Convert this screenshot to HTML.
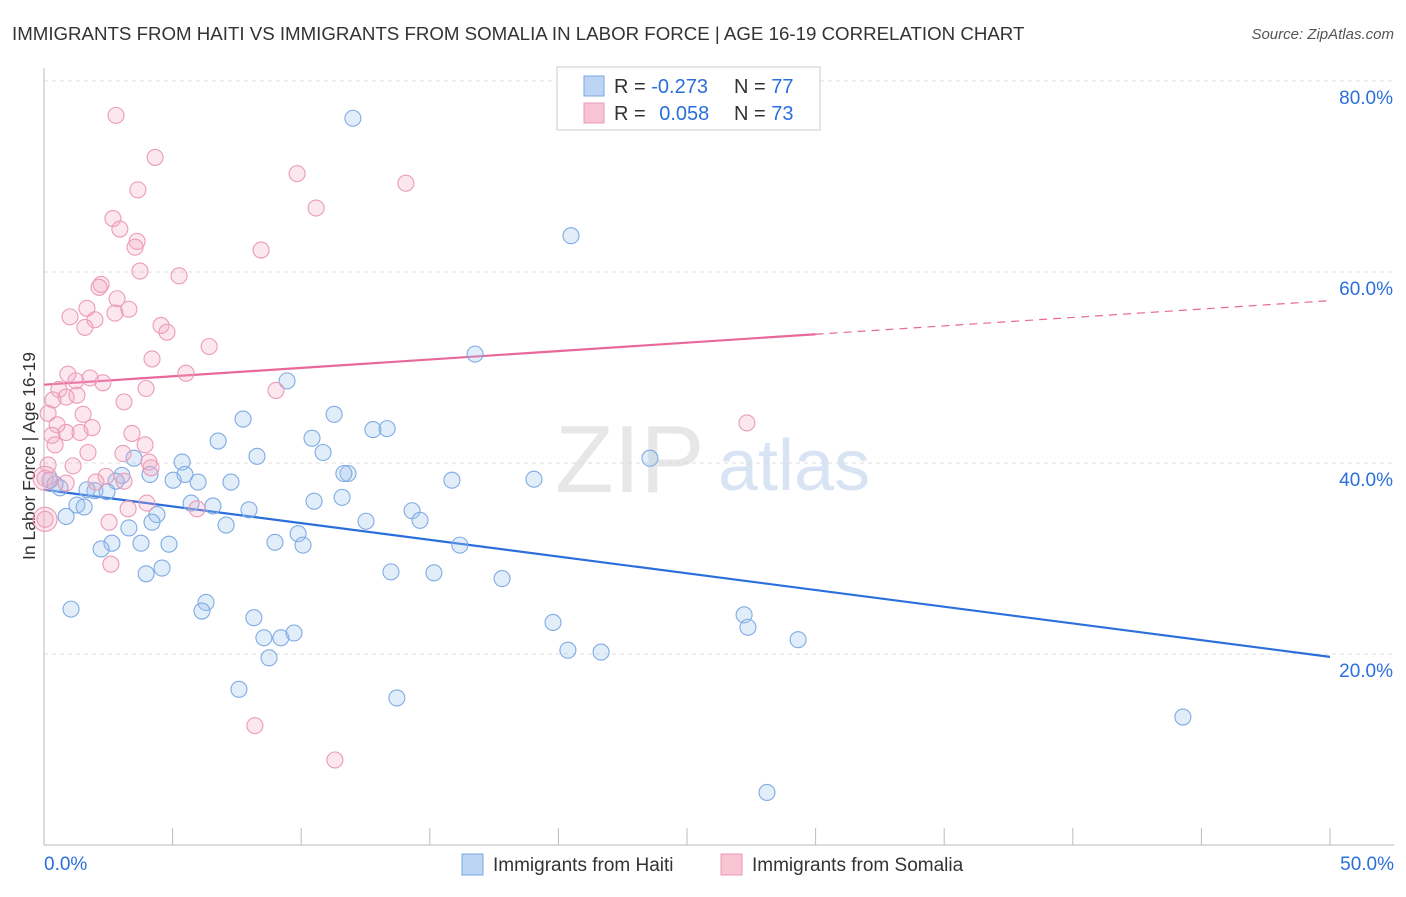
<!DOCTYPE html>
<html><head><meta charset="utf-8"><style>
body{margin:0;background:#fff;font-family:"Liberation Sans",sans-serif}
svg text{font-family:"Liberation Sans",sans-serif}
</style></head><body>
<svg id="c" width="1406" height="892">
<text x="12" y="40" font-size="18.7" fill="#333">IMMIGRANTS FROM HAITI VS IMMIGRANTS FROM SOMALIA IN LABOR FORCE | AGE 16-19 CORRELATION CHART</text>
<text x="1394" y="39" font-size="15" fill="#555" font-style="italic" text-anchor="end">Source: ZipAtlas.com</text>
<text x="35" y="456" font-size="17.5" fill="#333" text-anchor="middle" transform="rotate(-90 35 456)">In Labor Force | Age 16-19</text>
<g><text x="555" y="492" font-size="96" fill="#ddd" font-family="Liberation Serif" opacity="0.7">ZIP</text><text x="718" y="490" font-size="72" fill="#c8daf0" opacity="0.7">atlas</text></g>
<g id="grid"></g><g id="axes"></g><g id="lines"></g><g id="pts"></g>
<g>
<rect x="557" y="67" width="263" height="63" fill="#fff" stroke="#ccc"/>
<rect x="584" y="76" width="20" height="20" fill="#bcd5f5" stroke="#7aa7e0"/>
<rect x="584" y="103" width="20" height="20" fill="#f8c4d4" stroke="#e99ab4"/>
<text x="614" y="93" font-size="20" fill="#333">R = <tspan fill="#2a6fdb">-0.273</tspan></text>
<text x="734" y="93" font-size="20" fill="#333">N = <tspan fill="#2a6fdb">77</tspan></text>
<text x="614" y="120" font-size="20" fill="#333">R = <tspan fill="#2a6fdb" dx="8">0.058</tspan></text>
<text x="734" y="120" font-size="20" fill="#333">N = <tspan fill="#2a6fdb">73</tspan></text>
</g>
<g>
<rect x="462" y="854" width="21" height="21" fill="#bcd5f5" stroke="#7aa7e0"/>
<text x="493" y="871" font-size="19" fill="#333">Immigrants from Haiti</text>
<rect x="721" y="854" width="21" height="21" fill="#f8c4d4" stroke="#e99ab4"/>
<text x="752" y="871" font-size="19" fill="#333">Immigrants from Somalia</text>
</g>
</svg>
<script>
const haitiX=[12.01,20.49,16.76,9.45,11.28,7.74,6.77,10.42,12.79,13.34,8.28,10.85,5.37,23.56,3.50,3.03,4.12,5.48,5.02,5.99,7.27,11.82,11.66,15.86,19.05,2.80,1.98,1.67,2.45,0.62,0.23,0.43,1.28,1.56,0.86,6.57,5.72,7.97,10.50,11.59,14.31,14.62,4.39,4.20,3.30,7.08,12.52,9.88,2.64,2.22,3.77,4.86,8.98,10.07,16.17,13.49,15.16,17.81,3.97,4.59,1.05,6.30,6.14,8.16,8.55,9.21,9.72,8.75,19.79,20.37,21.66,27.22,27.37,29.32,7.58,13.72,44.28,28.11];
const haitiY=[76.1,63.8,51.4,48.6,45.1,44.6,42.3,42.6,43.5,43.6,40.7,41.1,40.1,40.5,40.5,38.7,38.8,38.8,38.2,38.0,38.0,38.9,38.9,38.2,38.3,38.1,37.1,37.2,37.0,37.4,38.2,37.8,35.6,35.4,34.4,35.5,35.8,35.1,36.0,36.4,35.0,34.0,34.6,33.8,33.2,33.5,33.9,32.6,31.6,31.0,31.6,31.5,31.7,31.4,31.4,28.6,28.5,27.9,28.4,29.0,24.7,25.4,24.5,23.8,21.7,21.7,22.2,19.6,23.3,20.4,20.2,24.1,22.8,21.5,16.3,15.4,13.4,5.5];
const somaliaX=[2.80,4.32,3.65,9.84,14.07,10.58,2.68,2.95,3.62,3.54,8.44,3.73,5.25,2.22,2.14,2.84,3.30,1.67,2.76,1.01,1.98,1.59,4.55,4.78,6.42,4.20,0.93,5.52,1.24,1.79,2.29,0.58,3.97,0.86,1.28,9.02,3.11,0.35,0.16,1.52,0.51,1.87,0.86,1.40,0.31,0.43,3.93,3.42,1.71,3.07,4.08,4.16,0.16,1.13,2.41,2.02,3.11,0.86,0.04,4.00,3.27,5.95,2.53,0.04,2.60,27.33,8.20,11.31];
const somaliaY=[76.4,72.0,68.6,70.3,69.3,66.7,65.6,64.5,63.2,62.6,62.3,60.1,59.6,58.7,58.4,57.2,56.1,56.2,55.7,55.3,55.0,54.2,54.4,53.7,52.2,50.9,49.3,49.4,48.6,48.9,48.4,47.7,47.8,46.9,47.1,47.6,46.4,46.6,45.2,45.1,44.0,43.7,43.2,43.2,42.9,41.9,41.9,43.1,41.1,41.0,40.1,39.5,39.8,39.7,38.6,38.0,38.1,37.9,38.4,35.8,35.2,35.2,33.8,34.1,29.4,44.2,12.5,8.9];
const bigPts=[[0.04,38.4],[0.04,34.1]];
const haitiTrend=[37.2,19.7];
const somaliaTrend=[48.2,57.0];
const yTicks=[20,40,60,80];
const yTickLabels=["20.0%","40.0%","60.0%","80.0%"];
const xTicks=[0,5,10,15,20,25,30,35,40,45,50];

const NS="http://www.w3.org/2000/svg";
const X=v=>44+v/50*1286, Y=v=>845-v*9.55;
function mk(tag,attrs,parent){const e=document.createElementNS(NS,tag);for(const k in attrs)e.setAttribute(k,attrs[k]);document.getElementById(parent).appendChild(e);return e;}
yTicks.forEach((t,i)=>{
 const g=mk('line',{x1:44,x2:1394,y1:Y(t),y2:Y(t),stroke:'#ddd','stroke-dasharray':'4,4'},'grid');
 
 
 const tx=mk('text',{x:1393,y:Y(t)+23,'font-size':19,fill:'#2a6fdb','text-anchor':'end'},'grid');
 tx.textContent=yTickLabels[i];
 
 
});
const ax=mk('line',{x1:44,x2:44,y1:68,y2:845,stroke:'#bbb'},'axes');


const bx=mk('line',{x1:44,x2:1394,y1:845,y2:845,stroke:'#bbb'},'axes');


xTicks.forEach(t=>{const l=mk('line',{x1:X(t),x2:X(t),y1:828,y2:845,stroke:'#bbb'},'axes');
 
 });
const xl0=mk('text',{x:44,y:870,'font-size':19,fill:'#2a6fdb'},'axes');xl0.textContent='0.0%';


const xl1=mk('text',{x:1394,y:870,'font-size':19,fill:'#2a6fdb','text-anchor':'end'},'axes');xl1.textContent='50.0%';


function dot(x,y,r,fill,stroke,name){const c=mk('circle',{cx:X(x),cy:Y(y),r:r,fill:fill,stroke:stroke,'stroke-width':1.1},'pts');
 
 }
haitiX.forEach((x,i)=>dot(x,haitiY[i],8,'rgba(160,196,240,0.3)','#7fabe4','point-haiti'));
somaliaX.forEach((x,i)=>dot(x,somaliaY[i],8,'rgba(244,170,196,0.28)','#eb9bb6','point-somalia'));
bigPts.forEach(p=>dot(p[0],p[1],12,'rgba(244,170,196,0.28)','#eb9bb6','point-somalia-large'));
const hl=mk('line',{x1:X(0),y1:Y(haitiTrend[0]),x2:X(50),y2:Y(haitiTrend[1]),stroke:'#2a6fdb','stroke-width':2.2},'lines');


const sm=v=>somaliaTrend[0]+(somaliaTrend[1]-somaliaTrend[0])*v/50;
const sl=mk('line',{x1:X(0),y1:Y(sm(0)),x2:X(30),y2:Y(sm(30)),stroke:'#e8689a','stroke-width':2.2},'lines');


const sd=mk('line',{x1:X(30),y1:Y(sm(30)),x2:X(50),y2:Y(sm(50)),stroke:'#e8689a','stroke-width':1.2,'stroke-dasharray':'8,6'},'lines');


</script>
</body></html>
